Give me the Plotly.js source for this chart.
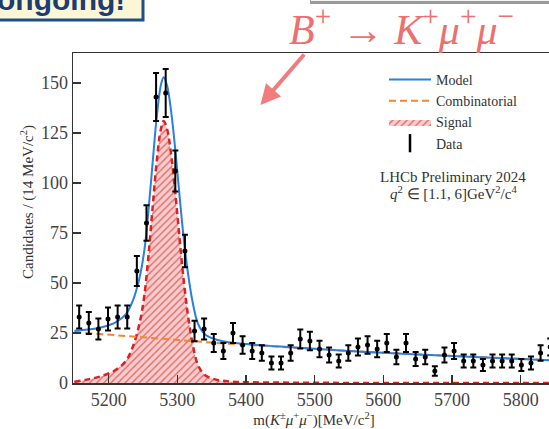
<!DOCTYPE html>
<html>
<head>
<meta charset="utf-8">
<script src="https://cdn.plot.ly/plotly-3.0.1.min.js"></script>
<style>
html,body{margin:0;padding:0;overflow:hidden;background:#fff;width:549px;height:429px;}
#chart{width:560px;height:429px;}
</style>
</head>
<body>
<div id="chart"></div>
<script>
// ---- data ----
const binCenters = [5157,5171,5185,5199,5213,5227,5241,5255,5269,5283,
                    5297,5311,5325,5339,5353,5367,5381,5395,5409,5423,
                    5437,5451,5465,5479,5493,5507,5521,5535,5549,5563,
                    5577,5591,5605,5619,5633,5647,5661,5675,5689,5703,
                    5717,5731,5745,5759,5773,5787,5801,5815,5829,5843];
const dataCounts = [33,30,27,32,33,33,56,80,143,145,
                    106,66,26,27,20,16,25,19,16,15,
                    10,10,15,22,21,17,14,11,15,18,
                    19,17,20,13,20,12,13,6,14,16,
                    11,11,9,11,11,11,9,10,15,18];
const dataErrors = [5.7,5.5,5.2,5.7,5.7,5.7,7.5,8.9,12,12,
                    10.3,8.1,5.1,5.2,4.5,4,5,4.4,4,3.9,
                    3.2,3.2,3.9,4.7,4.6,4.1,3.7,3.3,3.9,4.2,
                    4.4,4.1,4.5,3.6,4.5,3.5,3.6,2.4,3.7,4,
                    3.3,3.3,3,3.3,3.3,3.3,3,3.2,3.9,4.2];

const curveMass = [5150,5170,5190,5210,5225,5235,5245,5252,5258,5264,5270,5276,5280,5285,
                   5291,5297,5303,5309,5315,5322,5330,5340,5355,5375,5400,5450,5500,5550,
                   5600,5650,5700,5750,5800,5850];
const signalVals = [0.6,1.8,3.5,6.5,11,18,30,44,64,88,111,127,131,127,
                    114,95,73,52,35,20,9,4,1.8,0.8,0.4,0.2,0.1,0.05,
                    0,0,0,0,0,0];
const modelVals = [26.1,26.7,27.9,30.3,34.4,41.1,52.8,66.6,86.5,110.3,133.2,149.0,152.9,148.8,
                   135.6,116.5,94.3,73.2,56.0,40.9,29.7,24.4,21.9,20.4,19.5,18.2,17.1,16.05,
                   15.1,14.3,13.5,12.7,12.0,11.3];
const combMass = [5150,5200,5250,5300,5350,5400,5450,5500,5550,5600,5650,5700,5750,5800,5850];
const combVals = [25.5,24.1,22.7,21.4,20.2,19.1,18.0,17.0,16.0,15.1,14.3,13.5,12.7,12.0,11.3];

const xTicks = [5200,5300,5400,5500,5600,5700,5800];
const yTicks = [0,25,50,75,100,125,150];

// ---- geometry helpers for slide decorations (pixels -> paper) ----
const L = 73, R = 5, T = 53, B = 46, W = 560, H = 429;
const PW = W - L - R, PH = H - T - B;
const px = v => (v - L) / PW;
const py = v => (H - B - v) / PH;

const serif = 'Liberation Serif, Times New Roman, serif';

const traces = [
  {x: curveMass, y: signalVals, type: 'scatter', mode: 'lines', name: 'Signal',
   line: {width: 0, shape: 'spline'}, fill: 'tozeroy', fillcolor: '#f6c4c4',
   fillpattern: {shape: '/', fgcolor: '#e06464', bgcolor: '#f7cccc', size: 5, solidity: 0.25},
   legendrank: 3, hoverinfo: 'skip'},
  {x: curveMass, y: signalVals, type: 'scatter', mode: 'lines', showlegend: false,
   line: {color: '#dd2020', width: 2.5, dash: '6px,4px', shape: 'spline'}, hoverinfo: 'skip'},
  {x: combMass, y: combVals, type: 'scatter', mode: 'lines', name: 'Combinatorial',
   line: {color: '#f5862e', width: 2, dash: '7px,4px'}, legendrank: 2},
  {x: curveMass, y: modelVals, type: 'scatter', mode: 'lines', name: 'Model',
   line: {color: '#2a7fe0', width: 2, shape: 'spline'}, legendrank: 1},
  {x: binCenters, y: dataCounts, type: 'scatter', mode: 'markers', showlegend: false,
   marker: {color: '#000', size: 5},
   error_y: {type: 'data', array: dataErrors, visible: true, color: '#000', thickness: 2, width: 3}},
  {x: [null], y: [null], type: 'scatter', mode: 'markers', name: 'Data',
   marker: {symbol: 'line-ns-open', size: 13, color: '#000', line: {width: 2.5, color: '#000'}},
   legendrank: 4}
];

const layout = {
  width: W, height: H,
  margin: {l: L, r: R, t: T, b: B},
  paper_bgcolor: '#fff', plot_bgcolor: '#fff',
  font: {family: serif, color: '#333'},
  showlegend: true,
  legend: {x: px(384), y: py(64), xanchor: 'left', yanchor: 'top', itemwidth: 42,
           bgcolor: 'rgba(0,0,0,0)', font: {family: serif, size: 14, color: '#333'},
           tracegroupgap: 0},
  xaxis: {range: [5148, 5850], tickvals: xTicks, ticks: 'inside', ticklen: 8, tickwidth: 1.5,
          tickcolor: '#333', showline: true, linecolor: '#333', linewidth: 1.5, mirror: true,
          showgrid: false, zeroline: false,
          tickfont: {family: serif, size: 18, color: '#444'},
          title: {text: 'm(<i>K</i><sup>±</sup><i>μ</i><sup>+</sup><i>μ</i><sup>−</sup>)[MeV/c<sup>2</sup>]',
                  font: {family: serif, size: 15, color: '#333'}, standoff: 0}},
  yaxis: {range: [0, 165], tickvals: yTicks, ticks: 'inside', ticklen: 8, tickwidth: 1.5,
          tickcolor: '#333', showline: true, linecolor: '#333', linewidth: 1.5, mirror: true,
          showgrid: false, zeroline: false,
          tickfont: {family: serif, size: 18, color: '#444'}},
  shapes: [
    {type: 'rect', xref: 'paper', yref: 'paper', x0: px(-10), x1: px(143), y0: py(20), y1: py(-30),
     fillcolor: '#fdf6d6', line: {color: '#1d4f8a', width: 3}, layer: 'above'},
    {type: 'rect', xref: 'paper', yref: 'paper', x0: px(310), x1: px(580), y0: py(4), y1: py(-40),
     fillcolor: '#9a9a9a', line: {width: 0}, layer: 'above'},
    {type: 'rect', xref: 'paper', yref: 'paper', x0: px(311), x1: px(580), y0: py(1), y1: py(-40),
     fillcolor: '#f4f4f4', line: {width: 0}, layer: 'above'}
  ],
  annotations: [
    {xref: 'paper', yref: 'paper', x: px(-5), y: py(-1), xanchor: 'left', yanchor: 'middle',
     text: '<b>ongoing!</b>', showarrow: false,
     font: {family: 'Liberation Sans, Arial, sans-serif', size: 30, color: '#1b3d70'}},
    {xref: 'paper', yref: 'paper', x: px(287), y: py(26), xanchor: 'left', yanchor: 'middle',
     text: '<i>B</i><sup>+</sup> → <i>K</i><sup>+</sup><i>μ</i><sup>+</sup><i>μ</i><sup>−</sup>',
     showarrow: false, font: {family: serif, size: 42, color: '#ec7070'}},
    {xref: 'x', yref: 'y', x: 5421, y: 139, ax: 45, ay: -52, text: '', showarrow: true,
     arrowhead: 2, arrowsize: 1, arrowwidth: 4, arrowcolor: '#f07c7c'},
    {xref: 'paper', yref: 'paper', x: px(453), y: py(177), xanchor: 'center', yanchor: 'middle',
     text: 'LHCb Preliminary 2024', showarrow: false, font: {family: serif, size: 15, color: '#333'}},
    {xref: 'paper', yref: 'paper', x: px(453), y: py(193), xanchor: 'center', yanchor: 'middle',
     text: '<i>q</i><sup>2</sup> ∈ [1.1, 6]GeV<sup>2</sup>/c<sup>4</sup>', showarrow: false,
     font: {family: serif, size: 15, color: '#333'}},
    {xref: 'paper', yref: 'paper', x: px(27), y: py(202), xanchor: 'center', yanchor: 'middle',
     textangle: -90, text: 'Candidates / (14 MeV/c<sup>2</sup>)', showarrow: false,
     font: {family: serif, size: 15, color: '#333'}}
  ]
};

Plotly.newPlot('chart', traces, layout, {staticPlot: true, displayModeBar: false});
</script>
</body>
</html>
